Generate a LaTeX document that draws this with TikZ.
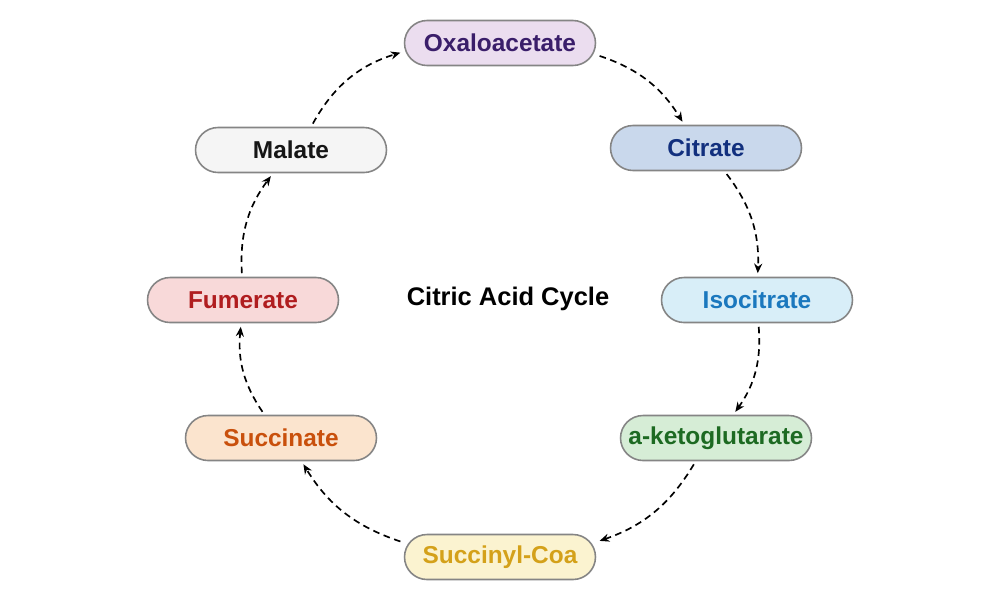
\documentclass[tikz,border=0pt]{standalone}
\usepackage{fontspec}
\setmainfont{Liberation Sans}
\usetikzlibrary{arrows.meta}
\definecolor{boxline}{HTML}{858585}
\definecolor{oxafill}{HTML}{EBDDEF}\definecolor{oxatext}{HTML}{3A1E6A}
\definecolor{citfill}{HTML}{C9D8EC}\definecolor{cittext}{HTML}{12307E}
\definecolor{isofill}{HTML}{D8EEF8}\definecolor{isotext}{HTML}{1B78BE}
\definecolor{ketfill}{HTML}{D6EDD6}\definecolor{kettext}{HTML}{1D6A22}
\definecolor{sclfill}{HTML}{FBF3D0}\definecolor{scltext}{HTML}{D4A11A}
\definecolor{sucfill}{HTML}{FBE4CE}\definecolor{suctext}{HTML}{C9500C}
\definecolor{fumfill}{HTML}{F8D9D9}\definecolor{fumtext}{HTML}{B01D1F}
\definecolor{malfill}{HTML}{F5F5F5}\definecolor{maltext}{HTML}{161616}
\tikzset{
  acid/.style={draw=boxline, line width=0.9pt, rounded corners=0.45cm,
    minimum width=3.82cm, minimum height=0.9cm, inner sep=0pt,
    font=\fontsize{13.9}{16}\selectfont\bfseries},
  cycarrow/.style={-{Stealth[length=5.5pt,width=4.6pt]}, line width=0.95pt,
    dash pattern=on 3.8pt off 2.6pt, shorten <=2pt, shorten >=2pt}
}
\begin{document}
\begin{tikzpicture}[x=0.02cm, y=-0.02cm]
  \useasboundingbox (0,0) rectangle (1000,600);
  \node [acid, fill=oxafill, text=oxatext] (oxa) at (500,43) {Oxaloacetate};
  \node [acid, fill=citfill, text=cittext] (cit) at (706,148) {Citrate};
  \node [acid, fill=isofill, text=isotext] (iso) at (757,300) {Isocitrate};
  \node [acid, fill=ketfill, text=kettext] (ket) at (716,438) {a-ketoglutarate};
  \node [acid, fill=sclfill, text=scltext] (scl) at (500,557) {Succinyl-Coa};
  \node [acid, fill=sucfill, text=suctext] (suc) at (281,438) {Succinate};
  \node [acid, fill=fumfill, text=fumtext] (fum) at (243,300) {Fumerate};
  \node [acid, fill=malfill, text=maltext] (mal) at (291,150) {Malate};
  \node [font=\fontsize{14.5}{17}\selectfont\bfseries] (title) at (508,299) {Citric Acid Cycle};
  % cycle arrows
  \draw [cycarrow] (oxa) to [bend left=20] (cit);
  \draw [cycarrow] (cit) to [bend left=20] (iso);
  \draw [cycarrow] (iso) to [bend left=20] (ket);
  \draw [cycarrow] (ket) to [bend left=20] (scl);
  \draw [cycarrow] (scl) to [bend left=20] (suc);
  \draw [cycarrow] (suc) to [bend left=20] (fum);
  \draw [cycarrow] (fum) to [bend left=20] (mal);
  \draw [cycarrow] (mal) to [bend left=22] (oxa);
\end{tikzpicture}
\end{document}
